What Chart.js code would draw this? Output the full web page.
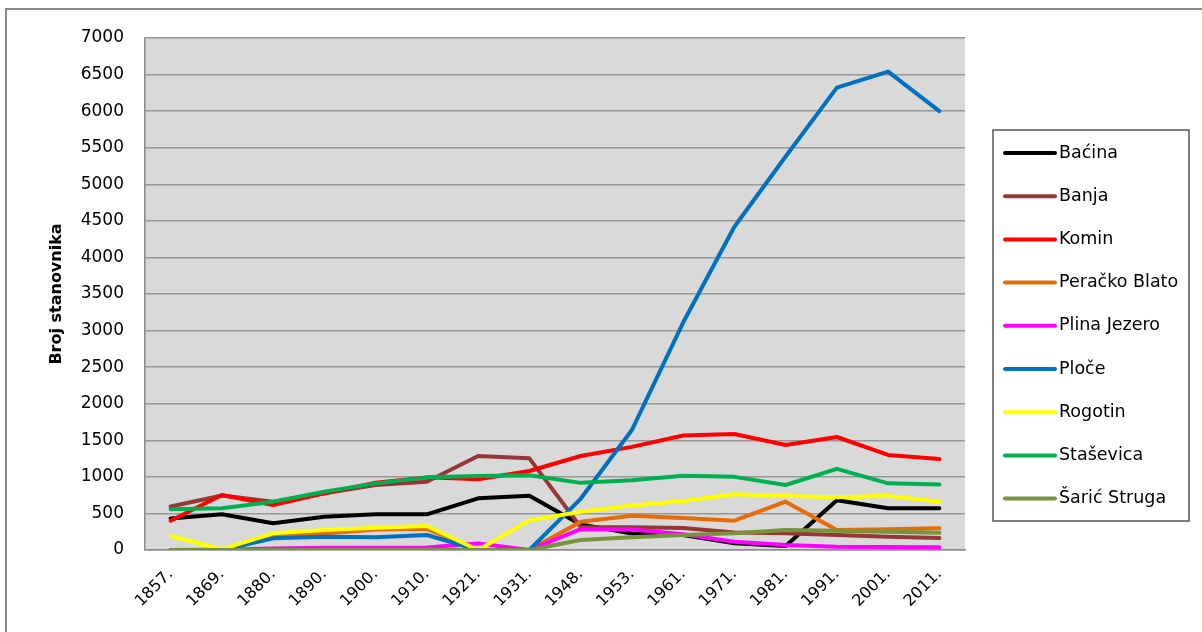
<!DOCTYPE html>
<html>
<head>
<meta charset="utf-8">
<script src="https://cdn.jsdelivr.net/npm/chart.js@4"></script>
<style>
  html, body { margin: 0; padding: 0; background: #ffffff; }
  #wrap { width: 1202px; height: 632px; position: relative; }
</style>
</head>
<body>
<div id="wrap"><canvas id="c" width="1202" height="632"></canvas></div>
<script>
const years = ['1857.','1869.','1880.','1890.','1900.','1910.','1921.','1931.','1948.','1953.','1961.','1971.','1981.','1991.','2001.','2011.'];

const bacina      = [430, 490, 365, 455, 488, 488, 706, 743, 350, 225, 205, 91, 55, 680, 570, 570];
const banja       = [595, 745, 660, 775, 889, 934, 1285, 1253, 315, 310, 300, 240, 228, 205, 182, 165];
const komin       = [401, 752, 615, 775, 920, 993, 966, 1080, 1285, 1410, 1565, 1586, 1435, 1545, 1299, 1244];
const perackoBlato= [0, 0, 190, 225, 280, 290, 0, 0, 387, 468, 437, 401, 661, 275, 282, 296];
const plinaJezero = [0, 5, 20, 30, 30, 35, 90, 0, 285, 280, 215, 112, 68, 46, 40, 36];
const ploce       = [0, 0, 159, 182, 176, 205, 0, 0, 700, 1640, 3110, 4420, 5380, 6322, 6541, 6000];
const rogotin     = [191, 10, 228, 273, 305, 328, 0, 405, 524, 610, 670, 761, 740, 722, 740, 661];
const stasevica   = [556, 570, 661, 797, 911, 993, 1011, 1022, 918, 955, 1015, 1000, 889, 1110, 911, 896];
const saricStruga = [0, 0, 0, 0, 0, 0, 0, 0, 137, 173, 205, 230, 275, 264, 251, 237];

const seriesNames = ['Baćina','Banja','Komin','Peračko Blato','Plina Jezero','Ploče','Rogotin','Staševica','Šarić Struga'];
const seriesValues = [bacina, banja, komin, perackoBlato, plinaJezero, ploce, rogotin, stasevica, saricStruga];
const seriesColors = ['#000000','#953735','#FF0000','#E46C0A','#FF00FF','#0070C0','#FFFF00','#00B050','#77933C'];

const yTicks = {min: 0, max: 7000, step: 500};

const datasets = seriesNames.map((name, i) => ({
  label: name,
  data: seriesValues[i],
  borderColor: seriesColors[i],
  backgroundColor: seriesColors[i],
  borderWidth: 4,
  pointRadius: 0,
  pointHoverRadius: 0,
  tension: 0,
  fill: false,
  borderJoinStyle: 'round',
  borderCapStyle: 'round',
  order: seriesNames.length - i
}));

const bgPlugin = {
  id: 'bgPlugin',
  beforeDraw(chart) {
    const {ctx, chartArea} = chart;
    ctx.save();
    ctx.fillStyle = '#ffffff';
    ctx.fillRect(0, 0, chart.width, chart.height);
    ctx.strokeStyle = '#8a8a8a';
    ctx.lineWidth = 2;
    ctx.strokeRect(6, 9, chart.width + 10, chart.height + 10);
    ctx.fillStyle = '#d9d9d9';
    ctx.fillRect(chartArea.left, chartArea.top, chartArea.right - chartArea.left, chartArea.bottom - chartArea.top);
    ctx.restore();
  }
};

const legendPlugin = {
  id: 'boxLegend',
  afterDraw(chart) {
    const {ctx, chartArea} = chart;
    const bx = chartArea.right + 28, by = 130, bw = 196, bh = 391;
    ctx.save();
    ctx.strokeStyle = '#555555';
    ctx.lineWidth = 1.5;
    ctx.strokeRect(bx, by, bw, bh);
    ctx.font = '17.5px "DejaVu Sans"';
    ctx.textBaseline = 'middle';
    ctx.textAlign = 'left';
    chart.data.datasets.forEach((ds, i) => {
      const y = by + 23 + i * 43.2;
      ctx.strokeStyle = ds.borderColor;
      ctx.lineWidth = 4;
      ctx.lineCap = 'round';
      ctx.beginPath();
      ctx.moveTo(bx + 12, y);
      ctx.lineTo(bx + 62, y);
      ctx.stroke();
      ctx.fillStyle = '#000000';
      ctx.fillText(ds.label, bx + 66, y);
    });
    ctx.restore();
  }
};

new Chart(document.getElementById('c'), {
  type: 'line',
  data: { labels: years, datasets: datasets },
  options: {
    responsive: false,
    animation: false,
    devicePixelRatio: 1,
    layout: { padding: { left: 0, top: 38, right: 237, bottom: 0 } },
    plugins: {
      legend: { display: false },
      tooltip: { enabled: false },
      title: { display: false }
    },
    scales: {
      x: {
        type: 'category',
        offset: true,
        grid: { display: false, drawTicks: false },
        border: { display: true, color: '#8c8c8c', width: 1.5 },
        ticks: {
          autoSkip: false,
          maxRotation: 45,
          minRotation: 45,
          padding: 15,
          color: '#000000',
          font: { family: 'DejaVu Sans', size: 16 }
        },
        afterFit(scale) { scale.height = 82; }
      },
      y: {
        min: yTicks.min,
        max: yTicks.max,
        grid: { color: '#979797', lineWidth: 1.5, drawTicks: false },
        border: { display: true, color: '#8c8c8c', width: 1.5 },
        ticks: {
          stepSize: yTicks.step,
          padding: 21,
          color: '#000000',
          font: { family: 'DejaVu Sans', size: 17 },
          callback: (v) => String(v)
        },
        title: {
          display: true,
          text: 'Broj stanovnika',
          color: '#000000',
          font: { family: 'DejaVu Sans', size: 16, weight: 'bold' },
          padding: { top: 47, bottom: 0 }
        },
        afterFit(scale) { scale.width = 145; }
      }
    }
  },
  plugins: [bgPlugin, legendPlugin]
});
</script>
</body>
</html>
